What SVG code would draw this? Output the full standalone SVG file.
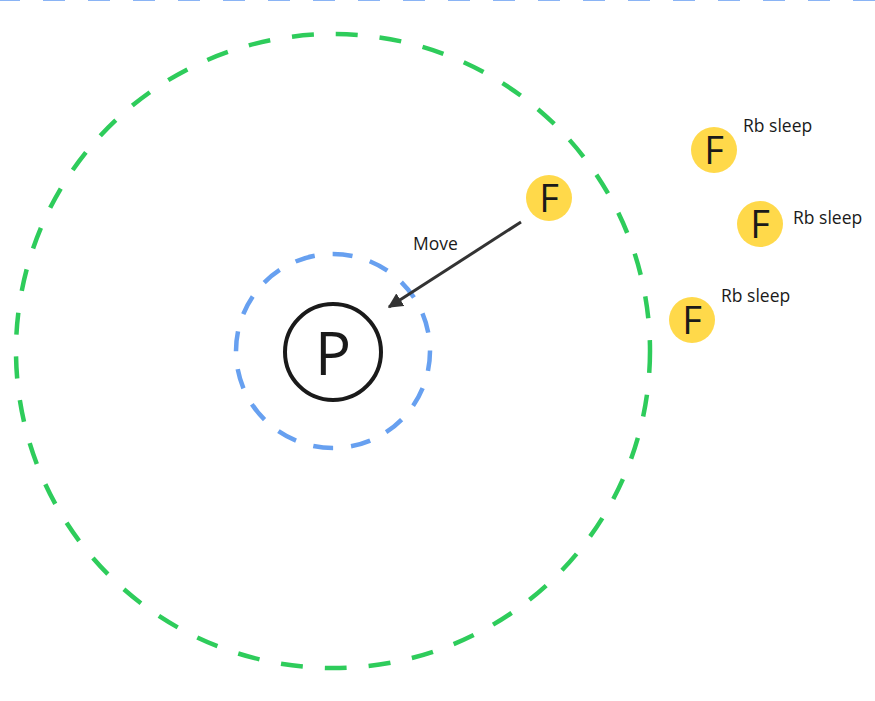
<svg xmlns="http://www.w3.org/2000/svg" width="875" height="701" viewBox="0 0 875 701">
<style>
text{font-family:"Open Sans","Noto Sans",sans-serif;fill:#1a1a1a}
.lbl{font-size:17.5px}
.fn{fill:#ffd94a}
.ft{font-size:38px;text-anchor:middle}
</style>
<defs>
<marker id="ah" viewBox="0 0 10 10" refX="9" refY="5" markerWidth="5" markerHeight="5" orient="auto" markerUnits="strokeWidth">
<path d="M0,0 L10,5 L0,10 z" fill="#333"/>
</marker>
</defs>
<rect width="875" height="701" fill="#fff"/>
<line x1="-2" y1="-1" x2="877" y2="-1" stroke="#8ab4f5" stroke-width="4" stroke-dasharray="22 23"/>
<g id="range-outer"><circle cx="333" cy="351" r="317" fill="none" stroke="#2ecc5b" stroke-width="4.5" stroke-dasharray="22 22"/></g>
<g id="range-inner"><circle cx="333" cy="351" r="97" fill="none" stroke="#67a0f0" stroke-width="4.5" stroke-dasharray="20 18"/></g>
<g id="player"><circle cx="333" cy="352" r="48" fill="#fff" stroke="#1a1a1a" stroke-width="4"/><text x="333" y="375" font-size="60" text-anchor="middle">P</text></g>
<g id="f-move"><circle class="fn" cx="549" cy="198" r="23"/><text class="ft" x="549" y="212">F</text></g>
<g id="f-sleep1"><circle class="fn" cx="714" cy="150" r="23"/><text class="ft" x="714" y="164">F</text><text class="lbl" x="743" y="132">Rb sleep</text></g>
<g id="f-sleep2"><circle class="fn" cx="760" cy="224" r="23"/><text class="ft" x="760" y="238">F</text><text class="lbl" x="793" y="224">Rb sleep</text></g>
<g id="f-sleep3"><circle class="fn" cx="692" cy="320" r="23"/><text class="ft" x="692" y="334">F</text><text class="lbl" x="721" y="302">Rb sleep</text></g>
<g id="connectors">
<line x1="521" y1="222" x2="389" y2="307" stroke="#333" stroke-width="3" marker-end="url(#ah)"/>
<text class="lbl" x="413" y="250">Move</text>
</g>
</svg>
